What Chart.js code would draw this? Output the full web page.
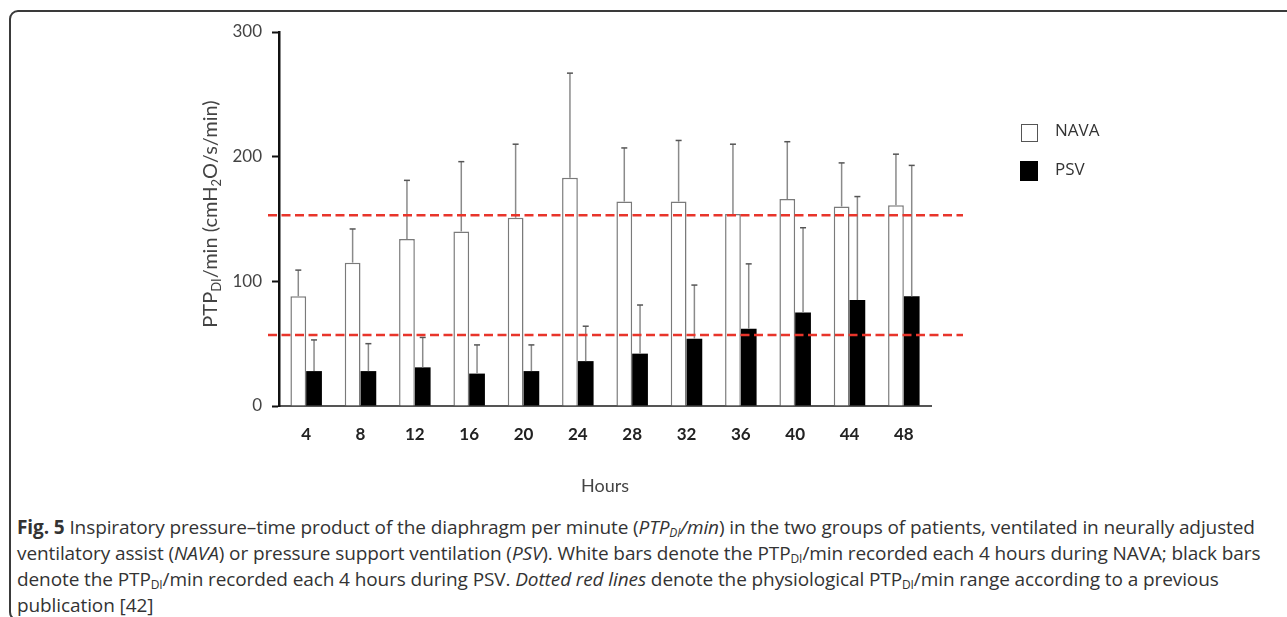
<!DOCTYPE html>
<html>
<head>
<meta charset="utf-8">
<script src="https://cdn.jsdelivr.net/npm/chart.js@4.4.1/dist/chart.umd.min.js"></script>
<style>
  html, body { margin: 0; padding: 0; background: #fff; width: 1287px; height: 617px; overflow: hidden; position: relative; }
  #frame { position: absolute; left: 9px; top: 10px; width: 1400px; height: 611px; border: 2px solid #3a3a3a; border-radius: 9px; box-sizing: border-box; }
  #chart { position: absolute; left: 0; top: 0; }
  .leg { position: absolute; font-family: "Open Sans", sans-serif; font-size: 17px; color: #333; }
  .box { position: absolute; box-sizing: border-box; }
  #caption { position: absolute; left: 17px; top: 514px; width: 1266px; font-family: "Open Sans", sans-serif; font-size: 19px; line-height: 26px; color: #333; letter-spacing: -0.1px; }
  #caption sub { font-size: 12px; vertical-align: -3px; line-height: 0; }
</style>
</head>
<body>
<div id="frame"></div>
<canvas id="chart" width="1287" height="500"></canvas>
<div class="box" style="left:1021px; top:124px; width:17px; height:18px; border:1.5px solid #555; background:#fff;"></div>
<div class="leg" style="left:1055px; top:118px;">NAVA</div>
<div class="box" style="left:1020px; top:161px; width:18px; height:20px; background:#000;"></div>
<div class="leg" style="left:1055px; top:157px;">PSV</div>
<div id="caption"><b>Fig. 5</b> Inspiratory pressure–time product of the diaphragm per minute (<i>PTP<sub>DI</sub>/min</i>) in the two groups of patients, ventilated in neurally adjusted ventilatory assist (<i>NAVA</i>) or pressure support ventilation (<i>PSV</i>). White bars denote the PTP<sub>DI</sub>/min recorded each 4 hours during NAVA; black bars denote the PTP<sub>DI</sub>/min recorded each 4 hours during PSV. <i>Dotted red lines</i> denote the physiological PTP<sub>DI</sub>/min range according to a previous publication [42]</div>
<script>
// ---- data ----
const hours = ['4', '8', '12', '16', '20', '24', '28', '32', '36', '40', '44', '48'];
const navaMean = [88, 115, 134, 140, 151, 183, 164, 164, 154, 166, 160, 161];
const navaSD   = [21, 27, 47, 56, 59, 84, 43, 49, 56, 46, 35, 41];
const psvMean  = [28, 28, 31, 26, 28, 36, 42, 54, 62, 75, 85, 88];
const psvSD    = [25, 22, 24, 23, 21, 28, 39, 43, 52, 68, 83, 105];
const rangeLines = [153, 57];
const yTicks = [0, 100, 200, 300];

const errorBars = {
  id: 'errorBars',
  afterDatasetsDraw(chart) {
    const ctx = chart.ctx;
    const y = chart.scales.y;
    const sds = [navaSD, psvSD];
    const means = [navaMean, psvMean];
    ctx.save();
    for (let d = 0; d < 2; d++) {
      const meta = chart.getDatasetMeta(d);
      meta.data.forEach((bar, i) => {
        const top = y.getPixelForValue(means[d][i] + sds[d][i]);
        ctx.strokeStyle = '#8a8a8a';
        ctx.lineWidth = 1.5;
        ctx.beginPath();
        ctx.moveTo(bar.x, bar.y);
        ctx.lineTo(bar.x, top);
        ctx.stroke();
        ctx.strokeStyle = '#555';
        ctx.lineWidth = 1.5;
        ctx.beginPath();
        ctx.moveTo(bar.x - 3, top);
        ctx.lineTo(bar.x + 3, top);
        ctx.stroke();
      });
    }
    // red dashed range lines
    const area = chart.chartArea;
    ctx.strokeStyle = '#e8352b';
    ctx.lineWidth = 2.5;
    ctx.setLineDash([9, 4.5]);
    rangeLines.forEach(v => {
      const py = y.getPixelForValue(v);
      ctx.beginPath();
      ctx.moveTo(area.left - 11, py);
      ctx.lineTo(area.right + 32, py);
      ctx.stroke();
    });
    ctx.restore();
  },
  afterDraw(chart) {
    const ctx = chart.ctx;
    const area = chart.chartArea;
    ctx.save();
    // x title
    ctx.fillStyle = '#444';
    ctx.font = '18px Lato, sans-serif';
    ctx.textAlign = 'center';
    ctx.textBaseline = 'middle';
    ctx.fillText('Hours', (area.left + area.right) / 2, area.bottom + 80);
    // y title with subscripts
    const segs = [
      ['PTP', false], ['DI', true], ['/min (cmH', false], ['2', true], ['O/s/min)', false]
    ];
    const big = '20px Lato, sans-serif';
    const small = '13px Lato, sans-serif';
    let total = 0;
    segs.forEach(s => { ctx.font = s[1] ? small : big; total += ctx.measureText(s[0]).width; });
    ctx.translate(211, (area.top + area.bottom) / 2 - 5);
    ctx.rotate(-Math.PI / 2);
    ctx.textAlign = 'left';
    ctx.textBaseline = 'alphabetic';
    let x = -total / 2;
    segs.forEach(s => {
      ctx.font = s[1] ? small : big;
      ctx.fillText(s[0], x, s[1] ? 10 : 6);
      x += ctx.measureText(s[0]).width;
    });
    ctx.restore();
  }
};

new Chart(document.getElementById('chart'), {
  type: 'bar',
  data: {
    labels: hours,
    datasets: [
      { label: 'NAVA', data: navaMean, backgroundColor: '#ffffff', borderColor: '#7a7a7a', borderWidth: 1.5,
        categoryPercentage: 0.58, barPercentage: 1.0 },
      { label: 'PSV', data: psvMean, backgroundColor: '#000000', borderColor: '#000000', borderWidth: 0,
        categoryPercentage: 0.58, barPercentage: 1.0 }
    ]
  },
  options: {
    responsive: false,
    animation: false,
    devicePixelRatio: 1,
    layout: { padding: { left: 0, right: 356, top: 32, bottom: 0 } },
    plugins: { legend: { display: false }, tooltip: { enabled: false } },
    scales: {
      x: {
        grid: { display: false, drawTicks: false },
        border: { display: true, color: '#555', width: 2 },
        ticks: { color: '#222', font: { family: 'Lato', size: 17, weight: 'bold' }, padding: 18, maxRotation: 0 },
        afterFit(s) { s.height = 94; }
      },
      y: {
        min: 0, max: 300,
        afterBuildTicks(s) { s.ticks = yTicks.map(v => ({ value: v })); },
        grid: { display: true, drawOnChartArea: false, drawTicks: true, tickLength: 7, tickColor: '#111', tickWidth: 2 },
        border: { display: true, color: '#111', width: 2.5 },
        ticks: { color: '#444', font: { family: 'Lato', size: 17 }, padding: 10 },
        afterFit(s) { s.width = 279; }
      }
    }
  },
  plugins: [errorBars]
});
</script>
</body>
</html>
